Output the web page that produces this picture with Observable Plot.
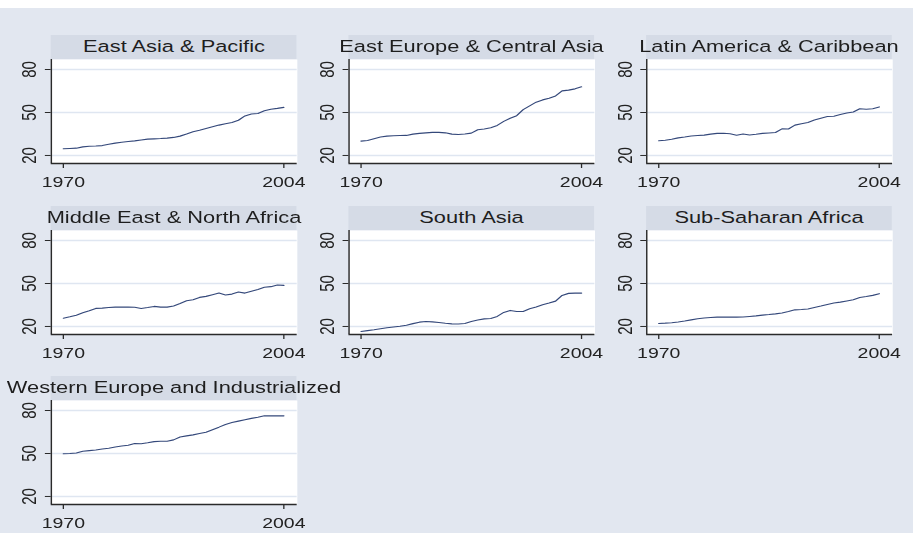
<!DOCTYPE html>
<html>
<head>
<meta charset="utf-8">
<script src="https://cdn.jsdelivr.net/npm/d3@7"></script>
<script src="https://cdn.jsdelivr.net/npm/@observablehq/plot@0.6"></script>
<style>
  html, body { margin: 0; padding: 0; background: #ffffff; }
  #page { position: relative; width: 913px; height: 533px; overflow: hidden; background: #ffffff; }
  #bg { position: absolute; left: 0; top: 8px; width: 913px; height: 525px; background: #e2e7f0; }
  #stage { position: absolute; left: 0; top: 0; width: 703px; height: 533px; transform: scaleX(1.3); transform-origin: 0 0; }
  .strip { position: absolute; display: flex; justify-content: center; align-items: center;
           background: #d5dbe6; font-family: "Liberation Sans", Arial, sans-serif; font-size: 16.8px;
           color: #1e1e1e; white-space: nowrap; }
  .plotbox { position: absolute; }
</style>
</head>
<body>
<div id="page"><div id="bg"></div><div id="stage"></div></div>
<script>
const years = [1970,1971,1972,1973,1974,1975,1976,1977,1978,1979,1980,1981,1982,1983,1984,1985,1986,1987,1988,1989,1990,1991,1992,1993,1994,1995,1996,1997,1998,1999,2000,2001,2002,2003,2004];

const regions = [
  "East Asia & Pacific",
  "East Europe & Central Asia",
  "Latin America & Caribbean",
  "Middle East & North Africa",
  "South Asia",
  "Sub-Saharan Africa",
  "Western Europe and Industrialized"
];

const eastAsiaPacific = [24.7,24.9,25.1,26.0,26.4,26.6,26.9,27.8,28.6,29.2,29.7,30.2,30.8,31.4,31.6,31.8,32.1,32.6,33.5,35.0,36.6,37.6,38.8,40.0,41.2,42.2,43.0,44.6,47.6,49.0,49.3,51.2,52.3,52.9,53.6];
const eastEuropeCentralAsia = [30.0,30.5,31.7,32.9,33.5,33.8,33.9,34.0,34.9,35.4,35.8,36.1,36.1,35.8,34.9,34.6,35.0,35.6,38.0,38.5,39.4,41.0,43.8,46.0,47.8,52.0,54.6,57.2,58.8,60.0,61.6,65.1,65.6,66.5,67.9];
const latinAmericaCaribbean = [30.3,30.6,31.3,32.3,32.9,33.6,33.9,34.2,34.9,35.4,35.5,35.2,34.1,35.0,34.3,34.8,35.4,35.7,36.0,38.6,38.5,41.2,42.2,43.0,44.7,46.0,47.2,47.4,48.6,49.6,50.4,52.6,52.3,52.6,53.9];
const middleEastNorthAfrica = [25.8,26.8,27.9,29.6,31.0,32.6,32.8,33.2,33.5,33.5,33.5,33.4,32.6,33.2,34.0,33.5,33.5,34.3,36.1,38.0,38.7,40.3,41.0,42.2,43.3,42.0,42.6,44.1,43.3,44.6,45.8,47.4,47.8,49.0,48.7];
const southAsia = [16.5,17.1,17.7,18.4,19.1,19.6,20.1,20.9,22.0,23.0,23.5,23.2,22.8,22.2,21.8,21.7,22.1,23.5,24.5,25.3,25.6,27.0,29.8,31.2,30.4,30.5,32.4,33.6,35.2,36.4,37.7,41.7,43.1,43.3,43.3];
const subSaharanAfrica = [22.1,22.3,22.6,23.1,23.8,24.6,25.4,25.9,26.3,26.5,26.5,26.5,26.5,26.6,27.0,27.4,27.9,28.3,28.8,29.4,30.4,31.6,31.8,32.2,33.3,34.3,35.4,36.4,37.0,37.8,38.6,40.2,40.9,41.7,42.9];
const westernEuropeIndustrialized = [49.8,50.0,50.4,51.6,52.0,52.4,53.1,53.7,54.5,55.2,55.8,57.0,56.8,57.5,58.3,58.5,58.6,59.5,61.5,62.3,63.0,63.9,64.8,66.6,68.4,70.3,71.6,72.6,73.6,74.5,75.3,76.3,76.3,76.3,76.3];

const seriesByRegion = [eastAsiaPacific, eastEuropeCentralAsia, latinAmericaCaribbean, middleEastNorthAfrica, southAsia, subSaharanAfrica, westernEuropeIndustrialized];

const xTicks = [1970, 2004];
const yTicks = [20, 50, 80];
const xDomain = [1968.15, 2006.08];
const yDomain = [14.4, 87.0];

// layout (unscaled units; stage is stretched horizontally by 1.3)
const SX = 1.3;
const plotW = 246 / SX;
const plotH = 104;
const stripH = 24;
const ML = 30, MR = 4, MB = 30;

const stage = document.getElementById("stage");

regions.forEach((name, i) => {
  const col = i % 3, row = Math.floor(i / 3);
  const left = (51 + col * 297.5) / SX;
  const top = 35 + row * 170.5;

  const strip = document.createElement("div");
  strip.className = "strip";
  strip.style.left = left + "px";
  strip.style.top = top + "px";
  strip.style.width = plotW + "px";
  strip.style.height = stripH + "px";
  strip.textContent = name;
  stage.appendChild(strip);

  const data = years.map((yr, k) => ({year: yr, value: seriesByRegion[i][k]}));

  const chart = Plot.plot({
    width: ML + plotW + MR,
    height: plotH + MB,
    marginLeft: ML,
    marginRight: MR,
    marginTop: 0,
    marginBottom: MB,
    style: {background: "transparent", overflow: "visible", fontFamily: "'Liberation Sans', Arial, sans-serif", fontSize: "15px", color: "#1e1e1e"},
    x: {domain: xDomain, ticks: xTicks},
    y: {domain: yDomain, ticks: yTicks},
    marks: [
      Plot.frame({fill: "white", stroke: "none"}),
      Plot.gridY(yTicks, {stroke: "#dfe6f1", strokeOpacity: 1, strokeWidth: 1.6}),
      Plot.line(data, {x: "year", y: "value", stroke: "#34487a", strokeWidth: 1.1}),
      Plot.ruleX([xDomain[0]], {stroke: "#2a2a2a", strokeWidth: 1.1}),
      Plot.ruleY([yDomain[0]], {stroke: "#2a2a2a", strokeWidth: 1.6}),
      Plot.axisY({ticks: yTicks, tickSize: 4.5, tickPadding: 7, tickRotate: -90, label: null, stroke: "#2a2a2a", fill: "#222", fontSize: 15}),
      Plot.axisX({ticks: xTicks, tickSize: 5, tickPadding: 8, tickFormat: d => String(d), label: null, stroke: "#2a2a2a", fill: "#222", fontSize: 15})
    ]
  });
  const box = document.createElement("div");
  box.className = "plotbox";
  box.style.left = (left - ML) + "px";
  box.style.top = (top + stripH) + "px";
  box.appendChild(chart);
  stage.appendChild(box);
});
</script>
</body>
</html>
